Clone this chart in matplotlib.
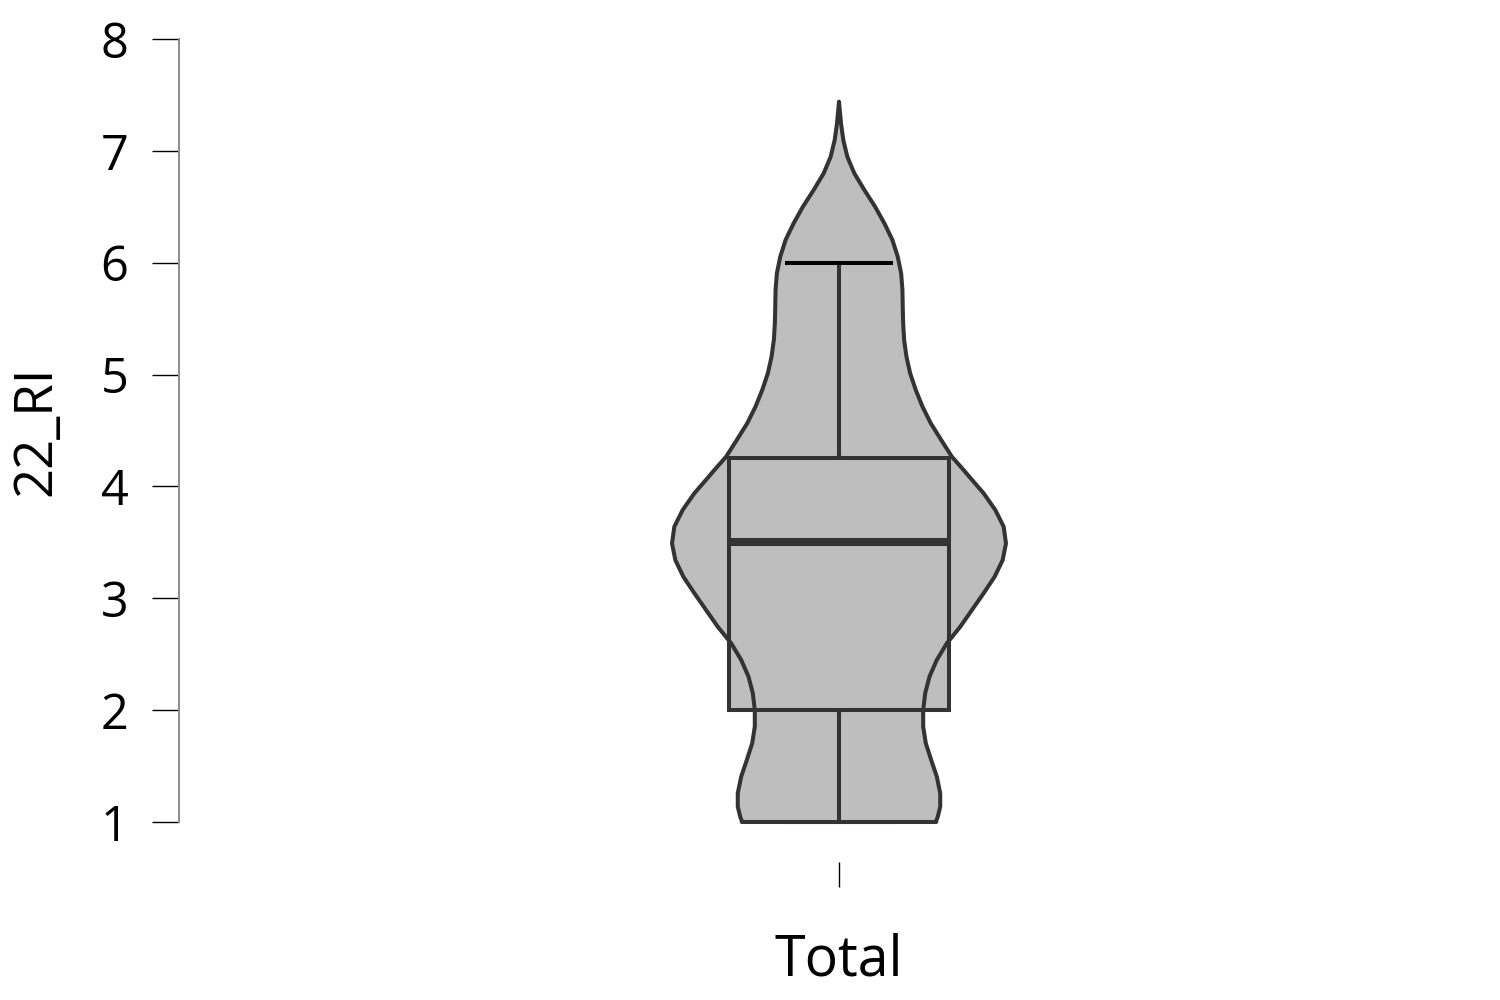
import numpy as np
import matplotlib
matplotlib.use("Agg")
import matplotlib.pyplot as plt

plt.rcParams['font.family'] = ['Open Sans', 'DejaVu Sans']

# violin outline: y value and relative density (half width)
violin_y = [1.00, 1.01, 1.048, 1.137, 1.257, 1.405, 1.554, 1.704, 1.852, 2.001,
            2.151, 2.300, 2.449, 2.598, 2.746, 2.895, 3.045, 3.193, 3.342, 3.491,
            3.640, 3.789, 3.939, 4.087, 4.147, 4.266, 4.415, 4.564, 4.713, 4.862,
            5.011, 5.160, 5.309, 5.458, 5.607, 5.756, 5.905, 6.054, 6.203, 6.352,
            6.501, 6.650, 6.799, 6.948, 7.097, 7.246, 7.44]
violin_dens = [97, 97, 98.6, 101, 101, 97.6, 92, 86.6, 84, 84,
               86, 90.3, 97.6, 107.6, 121, 132.6, 144.3, 155.3, 163.3, 166.6,
               164.3, 156, 144.3, 130, 124.3, 112.6, 102, 91.6, 83.3, 76.6,
               71, 67.3, 65, 64, 63.6, 63.3, 62, 58.6, 53.3, 45.3,
               36, 25.3, 15.3, 8.3, 4.3, 2, 0]

# box summary
whisker_low = 1
q1 = 2
median = 3.5
q3 = 4.25
whisker_high = 6

group = "Total"
ylabel = "22_RI"
yticks = [1, 2, 3, 4, 5, 6, 7, 8]

edge = '#333333'
fill = '#BEBEBE'

fig = plt.figure(figsize=(15, 10), dpi=100)
ax = fig.add_axes([179 / 1500, 0.178, 1320 / 1500, 0.783])

pos = 0
vy = np.array(violin_y)
vw = np.array(violin_dens) / max(violin_dens) * 0.253
bw = 0.1667

# violin fill, then box fill, then the violin outline on top of both
ax.fill_betweenx(vy, pos - vw, pos + vw, facecolor=fill, edgecolor='none',
                 clip_on=False, zorder=2)
ax.add_patch(plt.Rectangle((pos - bw, q1), 2 * bw, q3 - q1, facecolor=fill,
                           edgecolor='none', zorder=2.5, clip_on=False))
ax.fill_betweenx(vy, pos - vw, pos + vw, facecolor='none', edgecolor=edge,
                 linewidth=2.9, clip_on=False, zorder=3, joinstyle='round')

# whiskers and caps
cap = 0.082
ax.plot([pos, pos], [q3, whisker_high], color=edge, lw=2.9, zorder=3, clip_on=False)
ax.plot([pos, pos], [whisker_low, q1], color=edge, lw=2.9, zorder=3, clip_on=False)
ax.plot([pos - cap, pos + cap], [whisker_high, whisker_high], color='black', lw=2.9,
        zorder=3, clip_on=False, solid_capstyle='butt')
ax.plot([pos - cap, pos + cap], [whisker_low, whisker_low], color='black', lw=2.9,
        zorder=1.5, clip_on=False, solid_capstyle='butt')

# box outline and median
ax.add_patch(plt.Rectangle((pos - bw, q1), 2 * bw, q3 - q1, facecolor='none',
                           edgecolor=edge, linewidth=2.9, zorder=4, clip_on=False))
ax.plot([pos - bw, pos + bw], [median, median], color=edge, lw=5.8, zorder=5,
        solid_capstyle='butt')

ax.set_xlim(-1, 1)
ax.set_ylim(1, 8)
ax.set_yticks(yticks)
ax.set_xticks([pos])
ax.set_xticklabels([''])

for s in ['top', 'right']:
    ax.spines[s].set_visible(False)
ax.spines['bottom'].set_color('none')
ax.spines['bottom'].set_position(('outward', 28.8))
ax.spines['left'].set_bounds(1, 8)
ax.spines['left'].set_color('#8c8c8c')
ax.spines['left'].set_linewidth(1.4)

ax.tick_params(axis='y', length=19.4, width=1.0, color='black', pad=17, labelsize=35)
ax.tick_params(axis='x', length=18, width=1.0, color='black')

ax.set_ylabel(ylabel, fontsize=38)
ax.yaxis.set_label_coords(-0.108, 0.5)
ax.yaxis.label.set_va('center')
ax.set_xlabel(group, fontsize=40)
ax.xaxis.set_label_coords(0.5, -0.177)
ax.xaxis.label.set_va('center')

fig.savefig('out.png', dpi=100)
